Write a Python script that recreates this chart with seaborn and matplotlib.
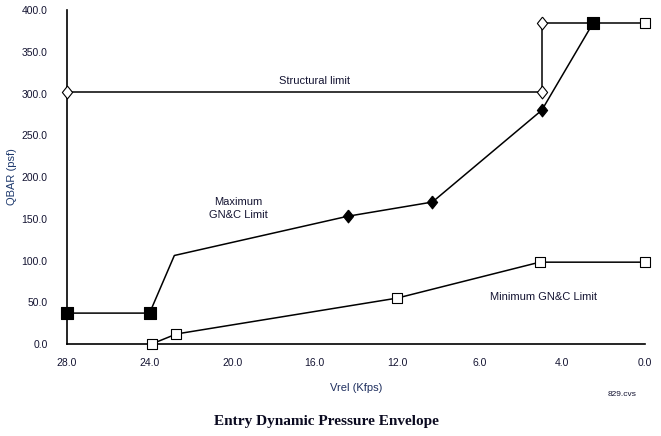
import matplotlib
matplotlib.use("Agg")
import matplotlib.pyplot as plt
import seaborn as sns
import pandas as pd

# Data
struct_v = [28.0, 5.0, 5.0, 2.5, 0.0]
struct_q = [302.0, 302.0, 385.0, 385.0, 385.0]

max_v = [28.0, 24.0, 22.8, 14.4, 10.3, 5.0, 2.5]
max_q = [37.0, 37.0, 106.0, 153.0, 170.0, 280.0, 385.0]

min_v = [23.9, 22.7, 12.0, 5.1, 0.0]
min_q = [0.0, 12.0, 55.0, 98.0, 98.0]

xticks = [28, 24, 20, 16, 12, 8, 4, 0]
xtick_labels = ["28.0", "24.0", "20.0", "16.0", "12.0", "6.0", "4.0", "0.0"]
yticks = [0, 50, 100, 150, 200, 250, 300, 350, 400]
ytick_labels = ["0.0", "50.0", "100.0", "150.0", "200.0", "250.0", "300.0", "350.0", "400.0"]

sns.set_theme(style="white")
plt.rcParams['font.family'] = ['Liberation Sans', 'DejaVu Sans']

fig = plt.figure(figsize=(6.61, 4.36), dpi=100)
ax = fig.add_axes([67/661, 1-344/436, (645-67)/661, (344-10)/436])

df_s = pd.DataFrame({"v": struct_v, "q": struct_q})
df_max = pd.DataFrame({"v": max_v, "q": max_q})
df_min = pd.DataFrame({"v": min_v, "q": min_q})

for d in (df_s, df_max, df_min):
    sns.lineplot(data=d, x="v", y="q", ax=ax, color="black", linewidth=1.1,
                 sort=False, estimator=None, clip_on=False, zorder=2)

diamond = [(0, 1), (0.8, 0), (0, -1), (-0.8, 0), (0, 1)]

# markers
mk = dict(zorder=5, clip_on=False, linewidth=0.8, edgecolor="black")
# structural: open diamonds at first three points, open square at last
sns.scatterplot(x=struct_v[:3], y=struct_q[:3], ax=ax, marker=diamond, s=85,
                facecolor="white", **mk)
sns.scatterplot(x=struct_v[4:], y=struct_q[4:], ax=ax, marker="s", s=55,
                facecolor="white", **mk)
# maximum: black squares at ends, black diamonds in between
sq_idx = [0, 1, 6]
di_idx = [3, 4, 5]
sns.scatterplot(x=[max_v[i] for i in sq_idx], y=[max_q[i] for i in sq_idx], ax=ax,
                marker="s", s=70, facecolor="black", **mk)
sns.scatterplot(x=[max_v[i] for i in di_idx], y=[max_q[i] for i in di_idx], ax=ax,
                marker=diamond, s=85, facecolor="black", **mk)
# minimum: open squares
sns.scatterplot(x=min_v, y=min_q, ax=ax, marker="s", s=55, facecolor="white", **mk)

ax.set_xlim(28, 0)
ax.set_ylim(0, 400)
ax.set_xticks(xticks)
ax.set_xticklabels(xtick_labels)
ax.set_yticks(yticks)
ax.set_yticklabels(ytick_labels)

for s in ("top", "right"):
    ax.spines[s].set_visible(False)
for s in ("left", "bottom"):
    ax.spines[s].set_color("black")
    ax.spines[s].set_linewidth(1.2)
ax.grid(False)

ax.tick_params(axis="both", direction="inout", length=10, width=1.1, color="black",
               labelsize=7.5, labelcolor="#141432")
ax.tick_params(axis="y", pad=9)
ax.tick_params(axis="x", pad=5)

ax.set_xlabel("Vrel (Kfps)", fontsize=8, color="#1f2f5f")
ax.xaxis.set_label_coords(0.5, -(388-344)/334, transform=ax.transAxes)
ax.set_ylabel("QBAR (psf)", fontsize=8, color="#1f3a6e")
ax.yaxis.set_label_coords(-(67-12)/578, 0.5, transform=ax.transAxes)
ax.yaxis.label.set_va("center")
ax.xaxis.label.set_va("center")

ax.text(16.0, 309, "Structural limit", fontsize=8, ha="center", va="bottom", color="#141432")
ax.text(19.7, 162, "Maximum\nGN&C Limit", fontsize=8, ha="center", va="center",
        color="#141432", linespacing=1.4)
ax.text(4.9, 56, "Minimum GN&C Limit", fontsize=8, ha="center", va="center", color="#141432")

fig.text(622/661, 1-395/436, "829.cvs", fontsize=6, ha="center", va="center", color="#141432")
fig.text(326/661, 1-421/436, "Entry Dynamic Pressure Envelope", fontsize=11,
         fontweight="bold", family=["Liberation Serif", "DejaVu Serif"],
         ha="center", va="center", color="#0a0a20")

fig.savefig("out.png", dpi=100)
